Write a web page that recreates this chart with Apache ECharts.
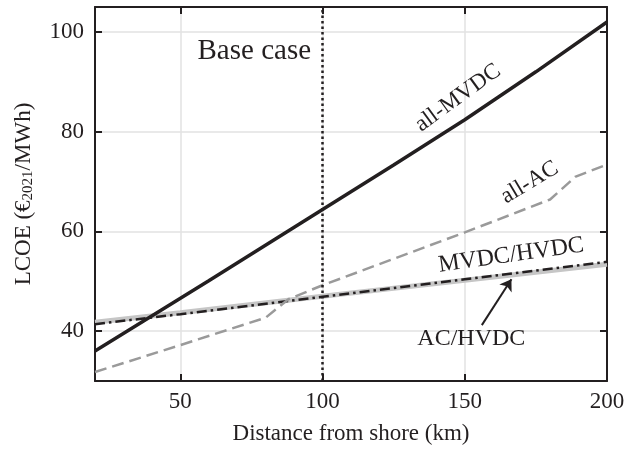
<!DOCTYPE html>
<html>
<head>
<meta charset="utf-8">
<script src="https://cdn.jsdelivr.net/npm/echarts@6/dist/echarts.min.js"></script>
<style>
  html, body { margin: 0; padding: 0; background: #fff; }
  #chart { width: 638px; height: 450px; }
</style>
</head>
<body>
<div id="chart"></div>
<script>
// distances (km) and LCOE values (EUR2021/MWh)
const mvdcDist = [20, 60, 100, 125, 150, 175, 200];
const allMVDC = [36, 50.1, 64.4, 73.3, 82.4, 92, 102];

const acDist = [20, 50, 80, 88, 100, 150, 180, 189, 200];
const allAC = [31.8, 37.2, 42.7, 46.4, 49.2, 59.8, 66.4, 71, 73.4];

const hybridDist = [20, 50, 100, 150, 200];
const mvdcHvdc = [41.4, 43.4, 46.9, 50.4, 53.9];
const acHvdc = [41.8, 43.7, 47.0, 50.2, 53.4];

const xTicks = [50, 100, 150, 200];
const yTicks = [40, 60, 80, 100];
const baseCase = 100;

const font = 'Liberation Serif';
const ink = '#231f20';

const pairs = (xs, ys) => xs.map((x, i) => [x, ys[i]]);

const chartDom = document.getElementById('chart');
const myChart = echarts.init(chartDom);

const axisCommon = {
  axisLine: { show: true, onZero: false, lineStyle: { color: ink, width: 2 } },
  axisTick: { show: true, inside: true, length: 7, lineStyle: { color: ink, width: 2 } },
};

const option = {
  animation: false,
  backgroundColor: '#fff',
  grid: { left: 95, right: 31, top: 7, bottom: 68 },
  xAxis: [
    {
      type: 'value', min: 20, max: 200, position: 'bottom',
      ...axisCommon,
      axisTick: { ...axisCommon.axisTick, customValues: xTicks },
      axisLabel: { customValues: xTicks, color: ink, fontFamily: font, fontSize: 23, margin: 9 },
      splitLine: { show: true, lineStyle: { color: '#e2e2e2', width: 1.5 } },
      name: 'Distance from shore (km)', nameLocation: 'middle', nameGap: 41,
      nameTextStyle: { color: ink, fontFamily: font, fontSize: 23 }
    },
    {
      type: 'value', min: 20, max: 200, position: 'top',
      ...axisCommon,
      axisTick: { ...axisCommon.axisTick, customValues: xTicks },
      axisLabel: { show: false, customValues: xTicks },
      splitLine: { show: false }
    }
  ],
  yAxis: [
    {
      type: 'value', min: 30, max: 105, position: 'left',
      ...axisCommon,
      axisTick: { ...axisCommon.axisTick, customValues: yTicks },
      axisLabel: { customValues: yTicks, color: ink, fontFamily: font, fontSize: 23, margin: 11 },
      splitLine: { show: true, lineStyle: { color: '#e2e2e2', width: 1.5 } },
      name: 'LCOE (€{sub|2021}/MWh)', nameLocation: 'middle', nameRotate: 90, nameGap: 59,
      nameTextStyle: {
        color: ink, fontFamily: font, fontSize: 23,
        rich: {
          sub: { fontFamily: font, fontSize: 15, color: ink, verticalAlign: 'bottom', padding: [10, 0, 0, 0] }
        }
      }
    },
    {
      type: 'value', min: 30, max: 105, position: 'right',
      ...axisCommon,
      axisTick: { ...axisCommon.axisTick, customValues: yTicks },
      axisLabel: { show: false, customValues: yTicks },
      splitLine: { show: false }
    }
  ],
  series: [
    {
      name: 'AC/HVDC', type: 'line', data: pairs(hybridDist, acHvdc), symbol: 'none',
      lineStyle: { color: '#c6c6c6', width: 5 }, z: 2,
      markLine: {
        silent: true, symbol: ['none', 'arrow'], symbolSize: 11,
        lineStyle: { color: ink, width: 2, type: 'solid' }, label: { show: false },
        data: [[{ coord: [156, 41.2] }, { coord: [166.4, 50.4] }]]
      }
    },
    {
      name: 'MVDC/HVDC', type: 'line', data: pairs(hybridDist, mvdcHvdc), symbol: 'none',
      lineStyle: { color: ink, width: 2.5, type: [10, 4, 2.5, 4] }, z: 3
    },
    {
      name: 'all-AC', type: 'line', data: pairs(acDist, allAC), symbol: 'none',
      lineStyle: { color: '#9a9a9a', width: 2.5, type: [12, 6] }, z: 3
    },
    {
      name: 'all-MVDC', type: 'line', data: pairs(mvdcDist, allMVDC), symbol: 'none',
      lineStyle: { color: ink, width: 3.5 }, z: 4,
      markLine: {
        silent: true, symbol: 'none', label: { show: false },
        lineStyle: { color: ink, width: 2.5, type: [2.5, 3] },
        data: [{ xAxis: baseCase }]
      }
    }
  ]
};

myChart.setOption(option);

// text annotations placed at data coordinates
const notes = [
  { text: 'Base case', at: [76, 96], rot: 0, size: 29 },
  { text: 'all-MVDC', at: [147.6, 86.8], rot: 36, size: 23 },
  { text: 'all-AC', at: [172.8, 69.8], rot: 31, size: 23 },
  { text: 'MVDC/HVDC', at: [166.3, 55.2], rot: 8, size: 24 },
  { text: 'AC/HVDC', at: [152.3, 38.4], rot: 0, size: 24 }
];

myChart.setOption({
  graphic: notes.map(n => {
    const p = myChart.convertToPixel({ gridIndex: 0 }, n.at);
    return {
      type: 'text', x: p[0], y: p[1], rotation: n.rot * Math.PI / 180, z: 10,
      style: {
        text: n.text, fill: ink, font: `${n.size}px "${font}"`,
        align: 'center', verticalAlign: 'middle'
      }
    };
  })
});
</script>
</body>
</html>
